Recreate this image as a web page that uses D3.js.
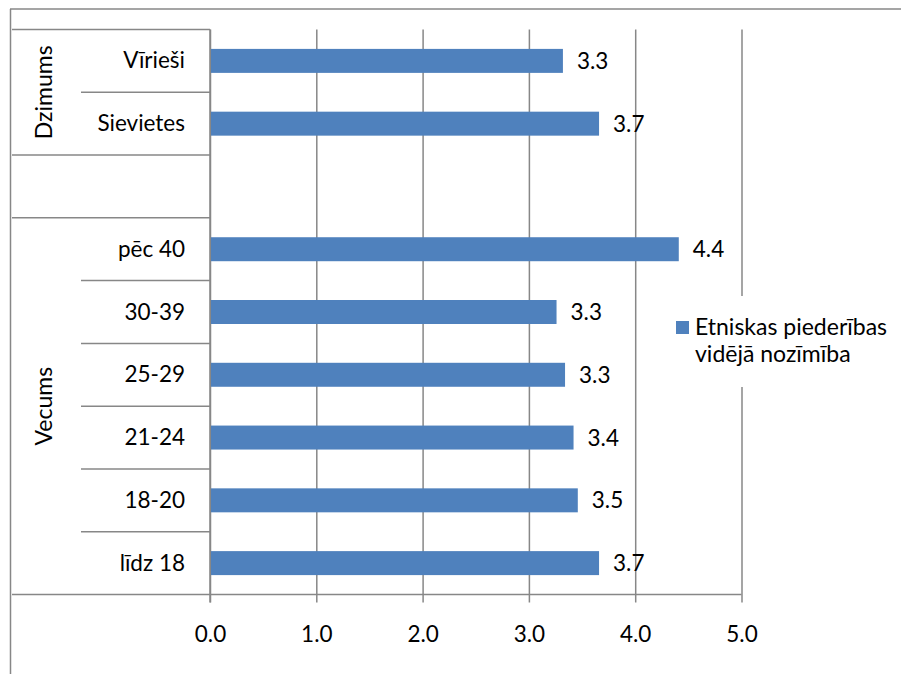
<!DOCTYPE html>
<html>
<head>
<meta charset="utf-8">
<script src="https://cdn.jsdelivr.net/npm/d3@7/dist/d3.min.js"></script>
<style>
  html, body { margin: 0; padding: 0; background: #fff; }
  svg text { font-family: Lato, "Open Sans", sans-serif; fill: #000; }
</style>
</head>
<body>
<svg id="chart" width="901" height="674"></svg>
<script>
// ---- data ----
const categories = ["Vīrieši", "Sievietes", "", "pēc 40", "30-39", "25-29", "21-24", "18-20", "līdz 18"];
const values = [3.32, 3.66, null, 4.41, 3.26, 3.34, 3.42, 3.46, 3.66];
const groupNames = ["Dzimums", "", "Vecums"];
const groupSizes = [2, 1, 6];
const xTicks = [0, 1, 2, 3, 4, 5];
const seriesName = ["Etniskas piederības", "vidējā nozīmība"];

// ---- layout ----
const svg = d3.select("#chart");
const gray = "#878787";
const barColor = "#4F81BD";
const plot = { left: 210, right: 741.5, top: 29.5, bottom: 594.5 };
const fs = 22.5;

const x = d3.scaleLinear().domain([0, 5]).range([plot.left, plot.right]);
const y = d3.scaleBand().domain(categories.map((c, i) => i))
  .range([plot.top, plot.bottom]).paddingInner(0.618).paddingOuter(0.309);
const step = y.step();

// chart border (top and left)
svg.append("line").attr("x1", 10).attr("x2", 901).attr("y1", 9).attr("y2", 9)
  .attr("stroke", gray).attr("stroke-width", 1.5);
svg.append("line").attr("x1", 10.5).attr("x2", 10.5).attr("y1", 9).attr("y2", 674)
  .attr("stroke", gray).attr("stroke-width", 1.5);

// vertical gridlines + bottom axis
const xAxis = d3.axisBottom(x).tickValues(xTicks).tickFormat(d3.format(".1f"))
  .tickSize(8).tickPadding(0);
const gx = svg.append("g").attr("transform", `translate(0,${plot.bottom})`).call(xAxis);
gx.select(".domain").remove();
gx.selectAll(".tick line").attr("stroke", gray).attr("stroke-width", 1.5)
  .attr("y1", -(plot.bottom - plot.top)).attr("y2", 8);
gx.selectAll(".tick text").attr("font-size", fs).attr("dy", null).attr("y", 47.5)
  .style("font-family", "Lato, sans-serif");

// horizontal axis line
svg.append("line").attr("x1", 12).attr("x2", plot.right).attr("y1", plot.bottom).attr("y2", plot.bottom)
  .attr("stroke", gray).attr("stroke-width", 1.5);

// category axis horizontal separators
let idx = 0;
const groupBounds = [];
groupSizes.forEach((n) => {
  groupBounds.push([idx, idx + n]);
  idx += n;
});
svg.append("line").attr("x1", 12).attr("x2", plot.left).attr("y1", plot.top).attr("y2", plot.top)
  .attr("stroke", gray).attr("stroke-width", 1.5);
groupBounds.forEach(([s, e], gi) => {
  for (let k = s + 1; k < e; k++) {
    const yy = plot.top + k * step;
    svg.append("line").attr("x1", 81).attr("x2", plot.left).attr("y1", yy).attr("y2", yy)
      .attr("stroke", gray).attr("stroke-width", 1.5);
  }
  const yy = plot.top + e * step;
  if (e < categories.length) {
    svg.append("line").attr("x1", 12).attr("x2", plot.left).attr("y1", yy).attr("y2", yy)
      .attr("stroke", gray).attr("stroke-width", 1.5);
  }
  if (groupNames[gi]) {
    const cy = plot.top + (s + e) / 2 * step;
    svg.append("text").attr("transform", `translate(51.5,${cy}) rotate(-90)`)
      .attr("text-anchor", "middle").attr("font-size", 23).text(groupNames[gi]);
  }
});

// vertical axis line
svg.append("line").attr("x1", plot.left).attr("x2", plot.left).attr("y1", plot.top).attr("y2", plot.bottom + 8)
  .attr("stroke", gray).attr("stroke-width", 1.5);

// category labels
svg.append("g").selectAll("text").data(categories).join("text")
  .attr("x", 185).attr("y", (d, i) => y(i) + y.bandwidth() / 2 + 7.5)
  .attr("text-anchor", "end").attr("font-size", fs).text(d => d);

// legend background (covers gridline)
svg.append("rect").attr("x", 668).attr("y", 296).attr("width", 228).attr("height", 91).attr("fill", "#fff");
svg.append("rect").attr("x", 676).attr("y", 321).attr("width", 13).attr("height", 13).attr("fill", barColor);
svg.append("text").attr("x", 695).attr("y", 335).attr("font-size", 23).text(seriesName[0]);
svg.append("text").attr("x", 695).attr("y", 362).attr("font-size", 23).text(seriesName[1]);

// bars
const data = categories.map((c, i) => ({ i, c, v: values[i] })).filter(d => d.v != null);
svg.append("g").selectAll("rect").data(data).join("rect")
  .attr("x", x(0) + 1).attr("y", d => y(d.i))
  .attr("width", d => x(d.v) - x(0) - 1).attr("height", y.bandwidth())
  .attr("fill", barColor);

// data labels
svg.append("g").selectAll("text").data(data).join("text")
  .attr("x", d => x(d.v) + 14).attr("y", d => y(d.i) + y.bandwidth() / 2 + 8)
  .attr("font-size", fs).text(d => d3.format(".1f")(d.v));
</script>
</body>
</html>
